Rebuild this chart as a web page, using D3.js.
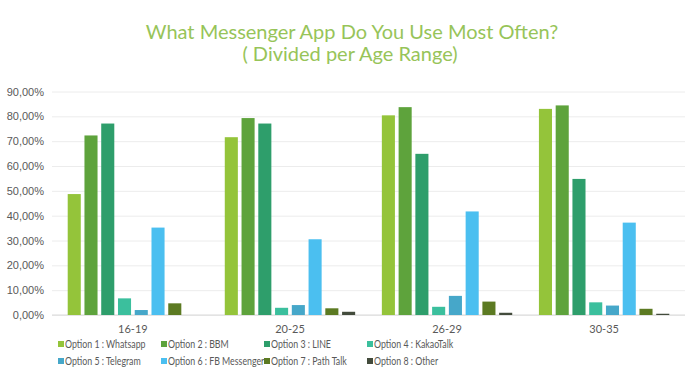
<!DOCTYPE html>
<html>
  <head>
    <meta charset="utf-8">
    <title>What Messenger App Do You Use Most Often?</title>
    <style>
      body { margin: 0; background: #fff; }
      svg { font-family: Lato, "Open Sans", sans-serif; }
    </style>
  </head>
  <body>
    <div id="vis"></div>
    <script src="https://d3js.org/d3.v7.min.js"></script>
    <script>
      const ageRanges = ['16-19', '20-25', '26-29', '30-35']
      const options = ['Option 1 : Whatsapp', 'Option 2 : BBM', 'Option 3 : LINE', 'Option 4 : KakaoTalk',
                       'Option 5 : Telegram', 'Option 6 : FB Messenger', 'Option 7 : Path Talk', 'Option 8 : Other']
      // one array per age range, in option order (percent)
      const age16_19 = [48.7, 72.3, 77.1, 6.7, 2.0, 35.2, 4.7, 0.0]
      const age20_25 = [71.6, 79.3, 77.1, 2.9, 4.0, 30.5, 2.7, 1.3]
      const age26_29 = [80.4, 83.7, 64.9, 3.3, 7.7, 41.7, 5.4, 0.9]
      const age30_35 = [83.0, 84.4, 54.8, 5.1, 3.8, 37.2, 2.5, 0.5]
      const yTicks = [0, 10, 20, 30, 40, 50, 60, 70, 80, 90]
      const colors = ['#94c43a', '#5ea33c', '#2e9e6b', '#3bbf9d', '#46a7c9', '#4bbff0', '#5c7a22', '#434b3c']

      const values = [age16_19, age20_25, age26_29, age30_35]

      const width = 693, height = 378
      const margin = {left: 52, right: 8, top: 91.5, bottom: 63}
      const svg = d3.select('#vis').append('svg').attr('width', width).attr('height', height)

      // title
      svg.append('text').attr('x', 352).attr('y', 39).attr('text-anchor', 'middle')
        .attr('font-size', 20).attr('fill', '#97c459').text('What Messenger App Do You Use Most Often?')
      svg.append('text').attr('x', 350).attr('y', 61).attr('text-anchor', 'middle')
        .attr('font-size', 20).attr('fill', '#97c459').text('( Divided per Age Range)')

      const y = d3.scaleLinear().domain([0, 90]).range([height - margin.bottom, margin.top])
      const x0 = d3.scaleBand().domain(ageRanges).range([margin.left, width - margin.right])
        .paddingInner(0.17).paddingOuter(0.1)
      const x1 = d3.scaleBand().domain(d3.range(options.length)).range([0, x0.bandwidth()]).paddingInner(0.22)

      // gridlines + y labels
      const yAxis = svg.append('g').attr('transform', 'translate(' + margin.left + ',0)')
        .call(d3.axisLeft(y).tickValues(yTicks).tickSize(-(width - margin.left - margin.right))
          .tickFormat(d => d.toFixed(2).replace('.', ',') + '%'))
      yAxis.select('.domain').remove()
      yAxis.selectAll('.tick line').attr('stroke', '#ececec')
      yAxis.selectAll('.tick text').attr('fill', '#595959').attr('font-size', 11).attr('x', -8)

      // baseline
      svg.append('line').attr('x1', margin.left).attr('x2', width - margin.right)
        .attr('y1', y(0)).attr('y2', y(0)).attr('stroke', '#d9d9d9')

      const groups = svg.selectAll('g.grp').data(values).join('g').attr('class', 'grp')
        .attr('transform', (d, i) => 'translate(' + x0(ageRanges[i]) + ',0)')
      groups.selectAll('rect').data(d => d).join('rect')
        .attr('x', (d, i) => x1(i))
        .attr('width', x1.bandwidth())
        .attr('y', d => y(d))
        .attr('height', d => y(0) - y(d))
        .attr('fill', (d, i) => colors[i])

      // x labels
      svg.append('g').selectAll('text').data(ageRanges).join('text')
        .attr('x', d => x0(d) + x0.bandwidth() / 2).attr('y', height - margin.bottom + 18)
        .attr('text-anchor', 'middle').attr('font-size', 11).attr('fill', '#595959').text(d => d)

      // legend (text is condensed in the original)
      const legend = svg.append('g').selectAll('g').data(options).join('g')
        .attr('transform', (d, i) => 'translate(' + (58 + (i % 4) * 103) + ',' + (348 + Math.floor(i / 4) * 17) + ')')
      legend.append('rect').attr('x', 0).attr('y', -7).attr('width', 6).attr('height', 6)
        .attr('fill', (d, i) => colors[i])
      legend.append('text').attr('transform', 'translate(7,0) scale(0.8,1)')
        .attr('font-size', 11).attr('fill', '#595959')
        .text(d => d)
    </script>
  </body>
</html>
